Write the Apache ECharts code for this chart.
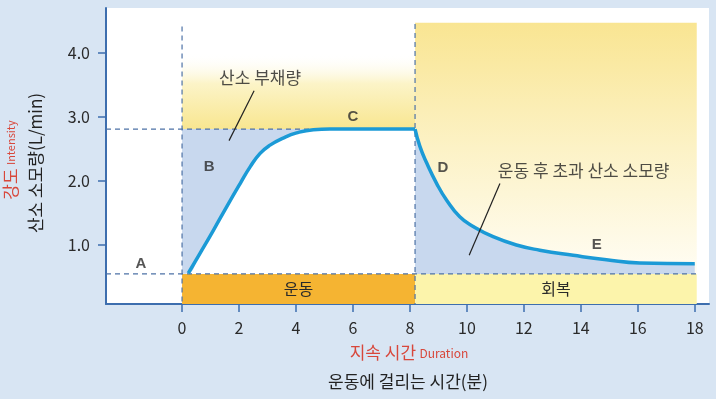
<!DOCTYPE html>
<html>
<head>
<meta charset="utf-8">
<script src="https://cdn.jsdelivr.net/npm/echarts@6/dist/echarts.min.js"></script>
<style>
  html, body { margin: 0; padding: 0; background: #d8e5f3; }
  #chart { width: 716px; height: 399px; }
</style>
</head>
<body>
<div id="chart"></div>
<script>
// 운동 중/후 산소 소모량
const xTicks = [0, 2, 4, 6, 8, 10, 12, 14, 16, 18];
const yTicks = [1, 2, 3, 4];

const restLevel = 0.55;
const steadyLevel = 2.81;
const exerciseStart = 0;
const exerciseEnd = 8.18;
const recoveryEnd = 18.07;

const exerciseCurve = [
  [0.22, 0.56], [0.63, 0.87], [1.1, 1.23], [1.57, 1.6], [2.04, 1.96],
  [2.39, 2.22], [2.74, 2.43], [3.09, 2.56], [3.55, 2.67], [4.02, 2.75],
  [4.61, 2.8], [5.19, 2.81], [6.7, 2.81], [8.18, 2.81],
];
const recoveryCurve = [
  [8.18, 2.81], [8.35, 2.54], [8.59, 2.28], [8.94, 1.96], [9.29, 1.7],
  [9.75, 1.44], [10.22, 1.29], [10.92, 1.13], [11.74, 1.0], [12.56, 0.92],
  [13.73, 0.84], [14.9, 0.77], [16.07, 0.72], [18.0, 0.71],
];

const phaseNames = ["운동", "회복"];
const letters = [
  ["A", -1.44, 0.7], ["B", 0.95, 2.22], ["C", 6.0, 3.0], ["D", 9.16, 2.2], ["E", 14.56, 1.0],
];
const notes = [
  ["산소 부채량", 2.74, 3.62],
  ["운동 후 초과 산소 소모량", 14.1, 2.16],
];
const noteLines = [
  [[2.53, 3.41], [1.65, 2.63]],
  [[11.16, 1.96], [10.08, 0.84]],
];

const xMin = -2.67, xMax = 18.5, yMin = 0.08, yMax = 4.7;

const chart = echarts.init(document.getElementById("chart"));
const font = '"Noto Sans CJK KR", "Noto Sans", sans-serif';
const axisBlue = "#3d6eae";
const dashBlue = "#4d72a6";
const red = "#d8473b";
const curveSmooth = 0.5;

const dashed = (data) => ({
  type: "line", data, symbol: "none", silent: true, z: 4,
  lineStyle: { color: dashBlue, width: 1.2, type: [5, 4] },
});

const option = {
  backgroundColor: "#d8e5f3",
  textStyle: { fontFamily: font },
  grid: {
    left: 106, right: 7, top: 8, bottom: 95,
    show: true, backgroundColor: "#ffffff", borderWidth: 0,
  },
  xAxis: {
    type: "value", min: xMin, max: xMax,
    axisLine: { onZero: false, lineStyle: { color: axisBlue, width: 2 } },
    axisTick: { customValues: xTicks, length: 8, lineStyle: { color: axisBlue, width: 1.5 } },
    axisLabel: { customValues: xTicks, margin: 16, fontSize: 16, color: "#2a2a2a", fontFamily: font },
    splitLine: { show: false },
  },
  yAxis: {
    type: "value", min: yMin, max: yMax,
    axisLine: { show: true, onZero: false, lineStyle: { color: axisBlue, width: 2 } },
    axisTick: { show: true, customValues: yTicks, length: 8, lineStyle: { color: axisBlue, width: 1.5 } },
    axisLabel: {
      customValues: yTicks, margin: 16, fontSize: 16, color: "#2a2a2a", fontFamily: font,
      formatter: (v) => v.toFixed(1),
    },
    splitLine: { show: false },
  },
  graphic: [
    {
      type: "text", x: 36, y: 163, rotation: Math.PI / 2,
      style: {
        text: "산소 소모량(L/min)", fill: "#222", font: "17px " + font,
        align: "center", verticalAlign: "middle",
      },
    },
    {
      type: "text", x: 11, y: 160, rotation: Math.PI / 2,
      style: {
        text: "{a|강도} {b|Intensity}", align: "center", verticalAlign: "middle",
        rich: {
          a: { fill: red, font: "17px " + font },
          b: { fill: red, font: "11px " + font },
        },
      },
    },
    {
      type: "text", x: 409, y: 353,
      style: {
        text: "{a|지속 시간} {b|Duration}", align: "center", verticalAlign: "middle",
        rich: {
          a: { fill: red, font: "17px " + font },
          b: { fill: red, font: "12px " + font },
        },
      },
    },
    {
      type: "text", x: 408, y: 382,
      style: {
        text: "운동에 걸리는 시간(분)", fill: "#222", font: "17px " + font,
        align: "center", verticalAlign: "middle",
      },
    },
  ],
  series: [
    {
      // yellow backgrounds
      type: "line", data: [], silent: true, z: 1,
      markArea: {
        silent: true,
        data: [
          [
            {
              coord: [exerciseStart, 4.0],
              itemStyle: {
                color: new echarts.graphic.LinearGradient(0, 0, 0, 1, [
                  { offset: 0, color: "rgba(255,255,255,0)" },
                  { offset: 0.4, color: "#fcf4c8" },
                  { offset: 1, color: "#f8e690" },
                ]),
              },
            },
            { coord: [exerciseEnd, steadyLevel] },
          ],
          [
            {
              coord: [exerciseEnd, 4.47],
              itemStyle: {
                color: new echarts.graphic.LinearGradient(0, 0, 0, 1, [
                  { offset: 0, color: "#f9e592" },
                  { offset: 0.5, color: "#fcf2c6" },
                  { offset: 1, color: "#fffdf4" },
                ]),
              },
            },
            { coord: [recoveryEnd, restLevel] },
          ],
        ],
      },
    },
    {
      // oxygen deficit
      type: "line", data: [[exerciseStart, restLevel]].concat(exerciseCurve),
      smooth: curveSmooth, symbol: "none", silent: true, z: 2,
      lineStyle: { opacity: 0 },
      areaStyle: { color: "#c8d8ee", opacity: 1, origin: steadyLevel },
    },
    {
      // EPOC
      type: "line", data: recoveryCurve,
      smooth: curveSmooth, symbol: "none", silent: true, z: 2,
      lineStyle: { opacity: 0 },
      areaStyle: { color: "#c8d8ee", opacity: 1, origin: restLevel },
    },
    {
      // phase bands
      type: "line", data: [], silent: true, z: 3,
      markArea: {
        silent: true,
        label: { position: "inside", fontSize: 16, color: "#2a2a2a", fontFamily: font },
        data: [
          [
            { name: phaseNames[0], coord: [exerciseStart, yMin], itemStyle: { color: "#f5b432" } },
            { coord: [exerciseEnd, restLevel] },
          ],
          [
            { name: phaseNames[1], coord: [exerciseEnd, yMin], itemStyle: { color: "#fcf4ab" } },
            { coord: [recoveryEnd, restLevel] },
          ],
        ],
      },
    },
    dashed([[xMin, restLevel], [recoveryEnd, restLevel]]),
    dashed([[xMin, steadyLevel], [exerciseEnd, steadyLevel]]),
    dashed([[exerciseStart, 4.41], [exerciseStart, yMin]]),
    dashed([[exerciseEnd, 4.45], [exerciseEnd, yMin]]),
    {
      type: "line", data: exerciseCurve, smooth: curveSmooth, symbol: "none", z: 6,
      lineStyle: { color: "#1b9ad6", width: 3.5 },
    },
    {
      type: "line", data: recoveryCurve, smooth: curveSmooth, symbol: "none", z: 6,
      lineStyle: { color: "#1b9ad6", width: 3.5 },
    },
    ...noteLines.map((seg) => ({
      type: "line", data: seg, symbol: "none", silent: true, z: 7,
      lineStyle: { color: "#222", width: 1.2 },
    })),
    {
      type: "scatter", symbolSize: 0, silent: true, z: 8,
      data: letters.map((l) => ({ name: l[0], value: [l[1], l[2]] })),
      label: {
        show: true, position: "inside", formatter: "{b}",
        fontSize: 15, fontWeight: "bold", color: "#2a2a2a", fontFamily: "Liberation Sans, Arial, sans-serif",
      },
    },
    {
      type: "scatter", symbolSize: 0, silent: true, z: 8,
      data: notes.map((n) => ({ name: n[0], value: [n[1], n[2]] })),
      label: {
        show: true, position: "inside", formatter: "{b}",
        fontSize: 17, color: "#222", fontFamily: font,
      },
    },
  ],
};

chart.setOption(option);
window.addEventListener("resize", () => chart.resize());
</script>
</body>
</html>
